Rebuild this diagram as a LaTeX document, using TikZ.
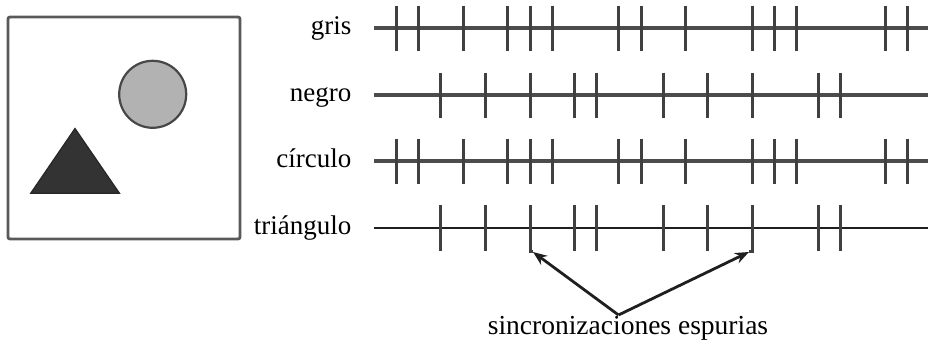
\documentclass[tikz,border=0pt]{standalone}
\usepackage{fontspec}
\setmainfont{Liberation Serif}
\usetikzlibrary{arrows.meta}
\tikzset{
  lbl/.style={anchor=base east, inner sep=0pt, font=\fontsize{27}{30}\selectfont},
  spike/.style={draw=black!75, line width=3pt},
  axis/.style={draw=black!70, line width=3.4pt},
  axisdark/.style={draw=black!88, line width=2.8pt},
  pointer/.style={draw=black!88, line width=2.8pt, line join=round, -{Stealth[length=14pt,width=11pt]}}
}
\begin{document}
\begin{tikzpicture}[x=1pt,y=-1pt]
\useasboundingbox (0,0) rectangle (932,348);
% left scene
\draw[draw=black!65, line width=2.8pt, rounded corners=2pt] (8,17) rectangle (240,239);
\draw[draw=black!72, line width=2.2pt, fill=black!30] (152.7,94.3) circle (33.5);
\draw[draw=black!85, line width=1.2pt, fill=black!80] (75,128.5) -- (119.5,193.3) -- (30.7,193.3) -- cycle;
% labels
\node[lbl] (lg) at (351.5,34.5) {gris};
\node[lbl] (ln) at (351.5,101) {negro};
\node[lbl] (lc) at (351.5,167.5) {círculo};
\node[lbl] (lt) at (351.5,234) {triángulo};
% axes
\draw[axis] (374,28) -- (928,28);
\draw[axis] (374,95) -- (928,95);
\draw[axis] (374,161) -- (928,161);
\draw[axisdark] (374,228) -- (928,228);
% spikes gris & circulo
\foreach \x in {396,418.5,463,507,530,552,618,641,685,752,774,796,885,907} {
  \draw[spike] (\x,5.5) -- (\x,50.5);
  \draw[spike] (\x,138.5) -- (\x,183.5);
}
% spikes negro & triangulo
\foreach \x in {440,485,574,596,663,707,818,840} {
  \draw[spike] (\x,72.5) -- (\x,117.5);
  \draw[spike] (\x,205) -- (\x,250.5);
}
\draw[spike] (530,72.5) -- (530,117.5);
\draw[spike] (752,72.5) -- (752,117.5);
\draw[spike] (530,205) -- (530,251) -- (533,251);
\draw[spike] (752,205) -- (752,251) -- (749,251);
% annotation
\coordinate (sa) at (533,252);
\coordinate (sb) at (749,252);
\coordinate (apex) at (618.5,315);
\node[anchor=base, inner sep=0pt, font=\fontsize{27.5}{30}\selectfont] (note) at (628,334) {sincronizaciones espurias};
\draw[pointer] (apex) -- (sa);
\draw[pointer] (apex) -- (sb);
\end{tikzpicture}
\end{document}
